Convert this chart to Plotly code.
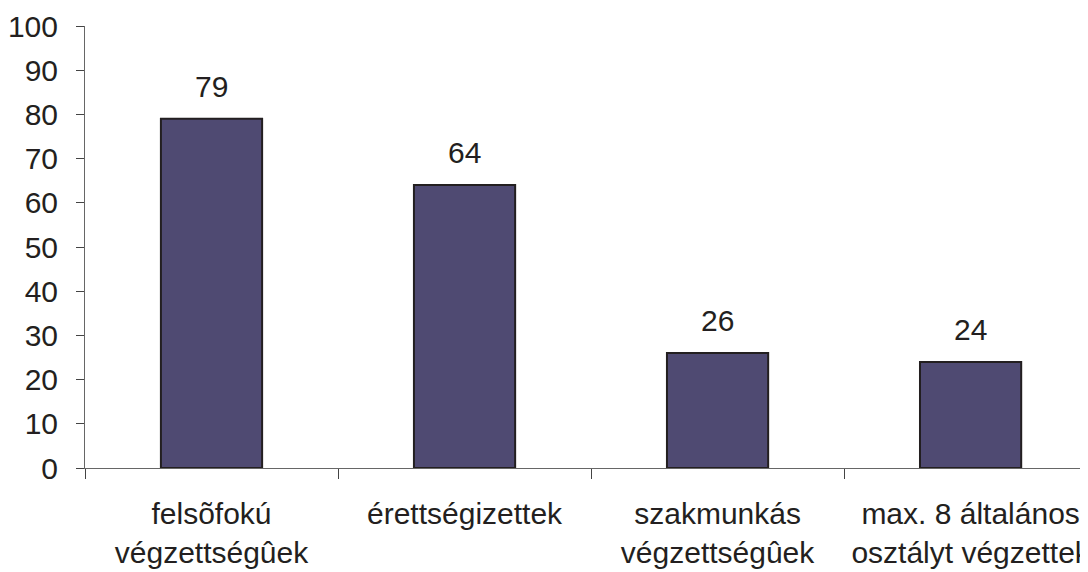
import plotly.graph_objects as go

categories = ["felsõfokú<br>végzettségûek", "érettségizettek", "szakmunkás<br>végzettségûek", "max. 8 általános<br>osztályt végzettek"]
values = [79, 64, 26, 24]
y_ticks = [0, 10, 20, 30, 40, 50, 60, 70, 80, 90, 100]

txt = "#231F20"
font = dict(family="Liberation Sans, Arial, sans-serif", size=30, color=txt)

fig = go.Figure()
fig.add_trace(go.Bar(
    x=categories, y=values, width=0.4,
    marker=dict(color="#4F4A72", line=dict(color="#231F20", width=2)),
    hoverinfo="skip",
))

for c, v in zip(categories, values):
    fig.add_annotation(x=c, y=v, text=str(v), showarrow=False,
                       yanchor="bottom", yshift=14, font=font)

fig.update_layout(
    width=1080, height=564,
    margin=dict(l=77, r=0, t=18, b=104),
    paper_bgcolor="white", plot_bgcolor="white",
    showlegend=False, font=font, bargap=0.6,
)
fig.update_xaxes(
    type="category", range=[-0.5, 3.464], automargin=False,
    showline=True, linecolor="#666666", linewidth=1,
    ticks="outside", tickson="boundaries", ticklen=10, tickcolor="#444444",
    showgrid=False, zeroline=False, tickfont=font, ticklabelstandoff=19,
)
fig.update_yaxes(
    range=[0, 100], tickvals=y_ticks, automargin=False,
    showline=True, linecolor="#666666", linewidth=1,
    ticks="outside", ticklen=8, tickcolor="#444444",
    showgrid=False, zeroline=False, tickfont=font, ticklabelstandoff=12,
)

fig.write_html("out.html")
